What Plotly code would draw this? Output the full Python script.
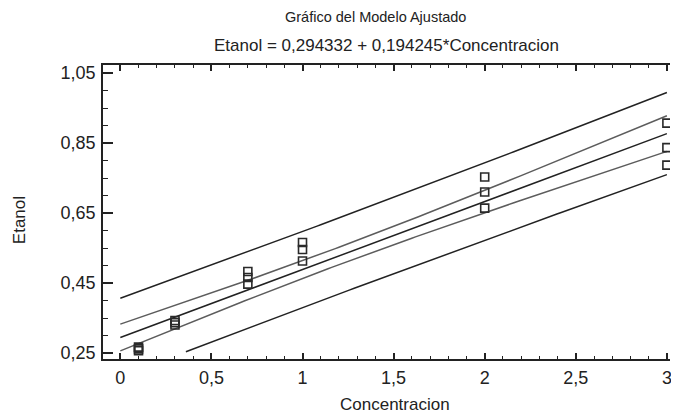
import numpy as np
import plotly.graph_objects as go

# ---- data ----
concentracion = [0.1, 0.1, 0.1, 0.3, 0.3, 0.3, 0.7, 0.7, 0.7,
                 1.0, 1.0, 1.0, 2.0, 2.0, 2.0, 3.0, 3.0, 3.0]
etanol = [0.257, 0.262, 0.267, 0.330, 0.337, 0.343, 0.447, 0.466, 0.483,
          0.513, 0.546, 0.566, 0.664, 0.710, 0.753, 0.787, 0.837, 0.907]
intercepto = 0.294332
pendiente = 0.194245
t_critico = 2.1199  # t(0.975, 16 g.l.), 95 % limits
x_ticks = [0, 0.5, 1, 1.5, 2, 2.5, 3]
y_ticks = [0.25, 0.45, 0.65, 0.85, 1.05]

# ---- fitted model and 95% confidence / prediction limits ----
x = np.array(concentracion)
y = np.array(etanol)
n = len(x)
resid = y - (intercepto + pendiente * x)
s = np.sqrt(np.sum(resid ** 2) / (n - 2))
xbar = x.mean()
sxx = np.sum((x - xbar) ** 2)

xs = np.linspace(0, 3, 151)
fit = intercepto + pendiente * xs
se_mean = s * np.sqrt(1 / n + (xs - xbar) ** 2 / sxx)
se_pred = s * np.sqrt(1 + 1 / n + (xs - xbar) ** 2 / sxx)
conf_lo, conf_hi = fit - t_critico * se_mean, fit + t_critico * se_mean
pred_lo, pred_hi = fit - t_critico * se_pred, fit + t_critico * se_pred
ymin = y_ticks[0]
pred_lo = np.where(pred_lo < ymin, None, pred_lo)
conf_lo = np.where(conf_lo < ymin, None, conf_lo)

dark = "#222222"
gray = "#5c5c5c"
font_fam = "Liberation Sans, Arial, sans-serif"

fig = go.Figure()
for yy, col in [(pred_hi, dark), (conf_hi, gray), (fit, dark), (conf_lo, gray), (pred_lo, dark)]:
    fig.add_trace(go.Scatter(x=xs, y=yy, mode="lines", line=dict(color=col, width=1.5),
                             hoverinfo="skip", showlegend=False))
fig.add_trace(go.Scatter(x=concentracion, y=etanol, mode="markers", showlegend=False,
                         marker=dict(symbol="square-open", size=8, color="#2a2a2a",
                                     line=dict(width=1.6, color="#2a2a2a"))))
fig.add_trace(go.Scatter(x=[None], y=[None], yaxis="y2", showlegend=False, hoverinfo="skip"))

# the page body has an 8px default margin, so the figure is sized to fit after it
fig.update_layout(
    width=671, height=406,
    margin=dict(l=95, r=9, t=57, b=55, autoexpand=False),
    paper_bgcolor="white", plot_bgcolor="white",
    separators=",.",
    font=dict(family=font_fam, size=18, color=dark),
    showlegend=False,
    xaxis=dict(range=[-0.095, 3.017], tickvals=x_ticks, ticks="inside", ticklen=6,
               tickwidth=1.5, tickcolor=dark, showline=True, linewidth=1.5, linecolor=dark,
               mirror="ticks", showgrid=False, zeroline=False, ticklabelstandoff=2,
               automargin=False,
               minor=dict(dtick=0.1, tick0=0, ticks="inside", ticklen=3, tickwidth=1.2,
                          tickcolor=dark, showgrid=False),
               tickfont=dict(size=18)),
    yaxis=dict(range=[0.233, 1.073], tickvals=y_ticks, tickformat=".2f", ticks="inside",
               ticklen=10, tickwidth=1.5, tickcolor=dark, showline=True, linewidth=1.5,
               linecolor=dark, showgrid=False, zeroline=False, ticklabelstandoff=2,
               automargin=False,
               minor=dict(dtick=0.05, tick0=0.25, ticks="inside", ticklen=5, tickwidth=1.2,
                          tickcolor=dark, showgrid=False),
               tickfont=dict(size=18)),
    yaxis2=dict(overlaying="y", side="right", anchor="x", range=[0.233, 1.073],
                tickvals=y_ticks, ticks="outside", ticklen=6, tickwidth=1.5, tickcolor=dark,
                showticklabels=False, showline=False, showgrid=False, zeroline=False,
                automargin=False),
    annotations=[
        dict(text="Gráfico del Modelo Ajustado", xref="paper", yref="paper", x=0.48, y=1.163,
             xanchor="center", yanchor="middle", showarrow=False, font=dict(size=14.5)),
        dict(text=f"Etanol = {intercepto:.6f}".replace(".", ",") + " + "
             + f"{pendiente:.6f}".replace(".", ",") + "*Concentracion",
             xref="paper", yref="paper", x=0.5, y=1.068, xanchor="center", yanchor="middle",
             showarrow=False, font=dict(size=17)),
        dict(text="Concentracion", xref="paper", yref="paper", x=0.515, y=-0.154,
             xanchor="center", yanchor="middle", showarrow=False, font=dict(size=17)),
        dict(text="Etanol", xref="paper", yref="paper", x=-0.146, y=0.473, textangle=-90,
             xanchor="center", yanchor="middle", showarrow=False, font=dict(size=17)),
    ],
)

fig.write_html("out.html")
